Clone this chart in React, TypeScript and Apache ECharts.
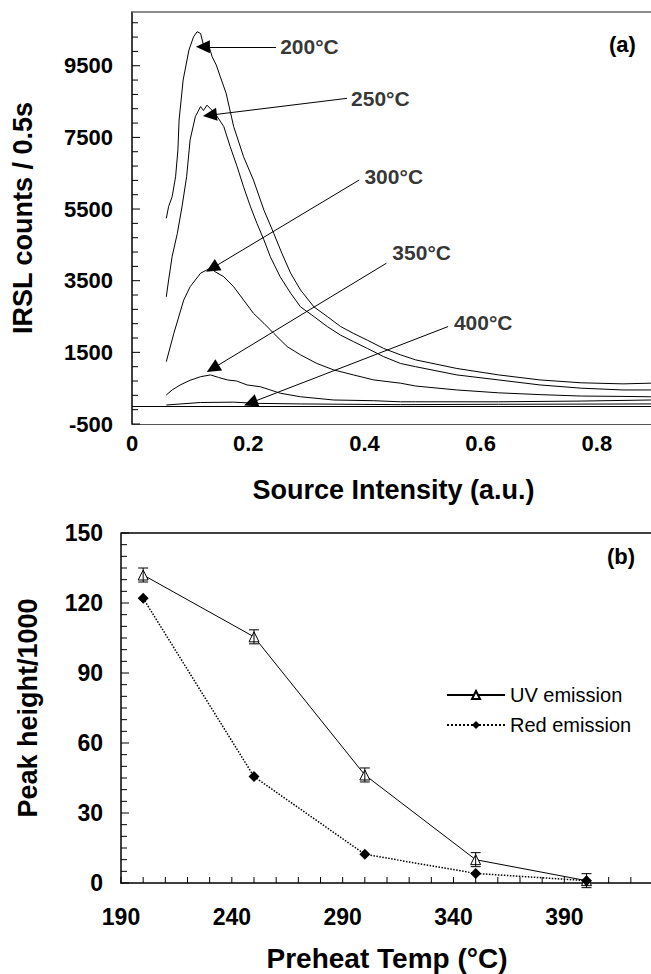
import React, { useEffect, useRef } from "react";
import * as echarts from "echarts";

// ---------- panel (a): IRSL vs source intensity ----------
const curve200 = [
  [0.059, 5240], [0.063, 5570], [0.069, 5840], [0.075, 6400], [0.079, 7150], [0.081, 7980],
  [0.088, 9100], [0.098, 9940], [0.106, 10310], [0.112, 10450], [0.118, 10400], [0.123, 10080],
  [0.131, 10120], [0.138, 9750], [0.145, 9520], [0.152, 9190], [0.162, 8730], [0.175, 7800],
  [0.192, 6960], [0.209, 6310], [0.227, 5470], [0.244, 4820], [0.258, 4260], [0.273, 3710],
  [0.29, 3240], [0.313, 2770], [0.336, 2500], [0.359, 2220], [0.381, 2030], [0.405, 1840],
  [0.433, 1610], [0.462, 1430], [0.488, 1290], [0.559, 1050], [0.631, 870], [0.702, 730],
  [0.773, 650], [0.845, 620], [0.893, 640],
];
const curve250 = [
  [0.059, 3050], [0.063, 3520], [0.069, 4170], [0.078, 4820], [0.086, 5560], [0.094, 6400],
  [0.1, 7430], [0.109, 8080], [0.118, 8360], [0.123, 8250], [0.129, 8400], [0.135, 8300],
  [0.143, 8170], [0.158, 7800], [0.169, 7240], [0.181, 6680], [0.192, 6120], [0.204, 5560],
  [0.215, 5100], [0.227, 4640], [0.238, 4170], [0.255, 3610], [0.273, 3150], [0.29, 2770],
  [0.313, 2500], [0.336, 2220], [0.359, 1980], [0.381, 1800], [0.405, 1610], [0.433, 1380],
  [0.462, 1190], [0.488, 1100], [0.559, 870], [0.631, 730], [0.702, 590], [0.773, 500],
  [0.845, 450], [0.893, 450],
];
const curve300 = [
  [0.059, 1240], [0.072, 2030], [0.089, 2960], [0.1, 3330], [0.118, 3710], [0.135, 3850],
  [0.143, 3750], [0.158, 3610], [0.175, 3330], [0.192, 2960], [0.209, 2590], [0.227, 2310],
  [0.244, 2030], [0.267, 1660], [0.29, 1430], [0.318, 1190], [0.347, 1010], [0.381, 870],
  [0.416, 730], [0.462, 640], [0.488, 560], [0.559, 450], [0.631, 370], [0.702, 320],
  [0.773, 280], [0.845, 270], [0.893, 260],
];
const curve350 = [
  [0.059, 310], [0.069, 450], [0.083, 590], [0.1, 720], [0.118, 820], [0.135, 870],
  [0.149, 800], [0.164, 730], [0.18, 700], [0.198, 590], [0.221, 540], [0.238, 450],
  [0.255, 360], [0.29, 260], [0.347, 170], [0.416, 150], [0.462, 120], [0.488, 120],
  [0.631, 120], [0.773, 140], [0.893, 170],
];
const curve400 = [
  [0.059, 30], [0.118, 100], [0.175, 110], [0.215, 76], [0.29, 60], [0.462, 40],
  [0.631, 50], [0.893, 60],
];

const tempLabels = ["200°C", "250°C", "300°C", "350°C", "400°C"];
const arrowTips = [[0.122, 10030], [0.134, 8120], [0.138, 3850], [0.139, 1050], [0.204, 90]];
const arrowTails = [[0.248, 10030], [0.37, 8590], [0.391, 6310], [0.438, 3990], [0.544, 2220]];
const labelPos = [[0.255, 10030], [0.377, 8590], [0.4, 6400], [0.448, 4280], [0.554, 2330]];

// ---------- panel (b): peak height vs preheat temperature ----------
const temps = [200, 250, 300, 350, 400];
const uvPeak = [132, 105.5, 46.3, 10, 1];
const uvErr = [3, 3, 3, 3, 3];
const redPeak = [122, 45.6, 12.3, 4.1, 1];

// axis ranges and tick positions (layout)
const xRangeTop = [0, 0.9];
const yRangeTop = [-500, 11000];
const xRangeBottom = [190, 430];
const yRangeBottom = [0, 150];
const yTicksTop = Array.from({ length: 29 }, (_, k) => -500 + 400 * k);
const xTicksBottom = Array.from({ length: 25 }, (_, k) => 190 + 10 * k);
const yTicksBottom = Array.from({ length: 31 }, (_, k) => 5 * k);

const FONT = "'Liberation Sans', Arial, Helvetica, sans-serif";

const tickLabel = (size: number, margin: number) => ({
  fontSize: size,
  fontWeight: "bold" as const,
  color: "#000",
  fontFamily: FONT,
  margin,
  showMaxLabel: false,
  formatter: (v: number) => String(v),
});

const nameStyle = (size: number) => ({
  fontSize: size,
  fontWeight: "bold" as const,
  color: "#000",
  fontFamily: FONT,
});

// frame (inside tick marks + top border) drawn through the axes' own scales
const frameSeries = (
  xi: number,
  yi: number,
  xRange: number[],
  yRange: number[],
  yTicks: number[],
  isMajorY: (v: number) => boolean,
  xTicks: number[],
  borderColor: string
) => ({
  type: "custom",
  xAxisIndex: xi,
  yAxisIndex: yi,
  silent: true,
  z: 5,
  clip: false,
  data: [[(xRange[0] + xRange[1]) / 2, (yRange[0] + yRange[1]) / 2]],
  encode: { x: 0, y: 1 },
  renderItem: (params: any, api: any) => {
    const st = { stroke: "#000", lineWidth: 1 };
    const children: any[] = [];
    yTicks.forEach((v) => {
      const p = api.coord([xRange[0], v]);
      const len = isMajorY(v) ? 8 : 6;
      children.push({ type: "line", shape: { x1: p[0], y1: p[1], x2: p[0] + len, y2: p[1] }, style: st });
    });
    xTicks.forEach((t) => {
      const p = api.coord([t, yRange[0]]);
      children.push({ type: "line", shape: { x1: p[0], y1: p[1], x2: p[0], y2: p[1] - 6 }, style: st });
    });
    const a = api.coord([xRange[0], yRange[1]]);
    const b = api.coord([xRange[1], yRange[1]]);
    children.push({
      type: "line",
      shape: { x1: a[0], y1: a[1], x2: b[0], y2: b[1] },
      style: { stroke: borderColor, lineWidth: 1.5 },
    });
    return { type: "group", children };
  },
});

export default function App() {
  const ref = useRef<HTMLDivElement>(null);

  useEffect(() => {
    if (!ref.current) return;
    const chart = echarts.init(ref.current, undefined, { renderer: "svg" });

    const curves = [curve200, curve250, curve300, curve350, curve400];
    const curveSeries: any[] = curves.map((c) => ({
      type: "line",
      xAxisIndex: 0,
      yAxisIndex: 0,
      data: c,
      showSymbol: false,
      symbol: "none",
      silent: true,
      lineStyle: { color: "#000", width: 1 },
      z: 2,
    }));
    curveSeries[0].markLine = {
      silent: true,
      symbol: "none",
      label: { show: false },
      lineStyle: { color: "#000", width: 1, type: "solid" },
      data: [{ yAxis: 0 }],
    };
    curveSeries[4].markLine = {
      silent: true,
      symbol: ["triangle", "none"],
      symbolSize: [13, 14],
      label: { show: false },
      lineStyle: { color: "#000", width: 1, type: "solid" },
      data: arrowTips.map((t, i) => [{ coord: t }, { coord: arrowTails[i] }]),
    };

    const option: any = {
      animation: false,
      backgroundColor: "#fff",
      title: [
        { text: "(a)", left: 609, top: 33, padding: 0, textStyle: { fontSize: 22, fontWeight: "bold", color: "#000", fontFamily: FONT } },
        { text: "(b)", left: 607, top: 545, padding: 0, textStyle: { fontSize: 22, fontWeight: "bold", color: "#000", fontFamily: FONT } },
      ],
      grid: [
        { left: 132, top: 12, width: 523, height: 412, outerBoundsMode: "none" },
        { left: 121, top: 533, width: 532, height: 350, outerBoundsMode: "none" },
      ],
      xAxis: [
        {
          gridIndex: 0,
          type: "value",
          min: xRangeTop[0],
          max: xRangeTop[1],
          interval: 0.2,
          axisLine: { show: true, onZero: false, lineStyle: { color: "#555", width: 1 } },
          axisTick: { show: false },
          splitLine: { show: false },
          axisLabel: tickLabel(22, 8),
          name: "Source Intensity (a.u.)",
          nameLocation: "middle",
          nameGap: 52,
          nameTextStyle: nameStyle(27),
        },
        {
          gridIndex: 1,
          type: "value",
          min: xRangeBottom[0],
          max: xRangeBottom[1],
          interval: 50,
          axisLine: { show: true, onZero: false, lineStyle: { color: "#000", width: 1.5 } },
          axisTick: { show: false },
          splitLine: { show: false },
          axisLabel: tickLabel(23, 22),
          name: "Preheat Temp (°C)",
          nameLocation: "middle",
          nameGap: 61,
          nameTextStyle: nameStyle(28),
        },
      ],
      yAxis: [
        {
          gridIndex: 0,
          type: "value",
          min: yRangeTop[0],
          max: yRangeTop[1],
          interval: 2000,
          axisLine: { show: true, onZero: false, lineStyle: { color: "#000", width: 1.5 } },
          axisTick: { show: false },
          splitLine: { show: false },
          axisLabel: tickLabel(22, 19),
          name: "IRSL counts / 0.5s",
          nameLocation: "middle",
          nameGap: 96,
          nameTextStyle: nameStyle(27),
        },
        {
          gridIndex: 1,
          type: "value",
          min: yRangeBottom[0],
          max: yRangeBottom[1],
          interval: 30,
          axisLine: { show: true, onZero: false, lineStyle: { color: "#000", width: 1.5 } },
          axisTick: { show: false },
          splitLine: { show: false },
          axisLabel: { ...tickLabel(23, 18), showMaxLabel: true },
          name: "Peak height/1000",
          nameLocation: "middle",
          nameGap: 80,
          nameTextStyle: nameStyle(27),
        },
      ],
      legend: {
        data: ["UV emission", "Red emission"],
        orient: "vertical",
        left: 441,
        top: 680,
        itemWidth: 58,
        itemHeight: 10,
        itemGap: 10,
        textStyle: { fontSize: 20, color: "#000", fontFamily: FONT },
      },
      series: [
        ...curveSeries,
        frameSeries(0, 0, xRangeTop, yRangeTop, yTicksTop, (v) => (v + 500) % 2000 === 0, [], "#666"),
        frameSeries(1, 1, xRangeBottom, yRangeBottom, yTicksBottom, (v) => v % 30 === 0, xTicksBottom, "#000"),
        {
          type: "scatter",
          xAxisIndex: 0,
          yAxisIndex: 0,
          silent: true,
          symbolSize: 0,
          data: labelPos.map((p, i) => ({ value: p, name: tempLabels[i] })),
          label: {
            show: true,
            position: "right",
            distance: 0,
            formatter: "{b}",
            fontSize: 21,
            fontWeight: "bold",
            color: "#000",
            fontFamily: FONT,
          },
        },
        {
          name: "UV emission",
          type: "line",
          xAxisIndex: 1,
          yAxisIndex: 1,
          data: temps.map((t, i) => [t, uvPeak[i]]),
          symbol: "triangle",
          symbolSize: 10,
          itemStyle: { color: "#fff", borderColor: "#000", borderWidth: 1 },
          lineStyle: { color: "#000", width: 1 },
          z: 3,
        },
        {
          name: "Red emission",
          type: "line",
          xAxisIndex: 1,
          yAxisIndex: 1,
          data: temps.map((t, i) => [t, redPeak[i]]),
          symbol: "diamond",
          symbolSize: 11,
          itemStyle: { color: "#000" },
          lineStyle: { color: "#000", width: 1.5, type: "dotted" },
          z: 3,
        },
        {
          type: "custom",
          xAxisIndex: 1,
          yAxisIndex: 1,
          silent: true,
          z: 5,
          clip: false,
          data: temps.map((t, i) => [t, uvPeak[i] - uvErr[i], uvPeak[i] + uvErr[i]]),
          encode: { x: 0, y: [1, 2] },
          renderItem: (params: any, api: any) => {
            const x = api.value(0);
            const lo = api.coord([x, api.value(1)]);
            const hi = api.coord([x, api.value(2)]);
            const w = 5;
            const st = { stroke: "#000", lineWidth: 1 };
            return {
              type: "group",
              children: [
                { type: "line", shape: { x1: lo[0], y1: lo[1], x2: hi[0], y2: hi[1] }, style: st },
                { type: "line", shape: { x1: lo[0] - w, y1: lo[1], x2: lo[0] + w, y2: lo[1] }, style: st },
                { type: "line", shape: { x1: hi[0] - w, y1: hi[1], x2: hi[0] + w, y2: hi[1] }, style: st },
              ],
            };
          },
        },
      ],
    };

    chart.setOption(option);
    return () => chart.dispose();
  }, []);

  return <div ref={ref} style={{ position: "absolute", left: 0, top: 0, width: 651, height: 974 }} />;
}
